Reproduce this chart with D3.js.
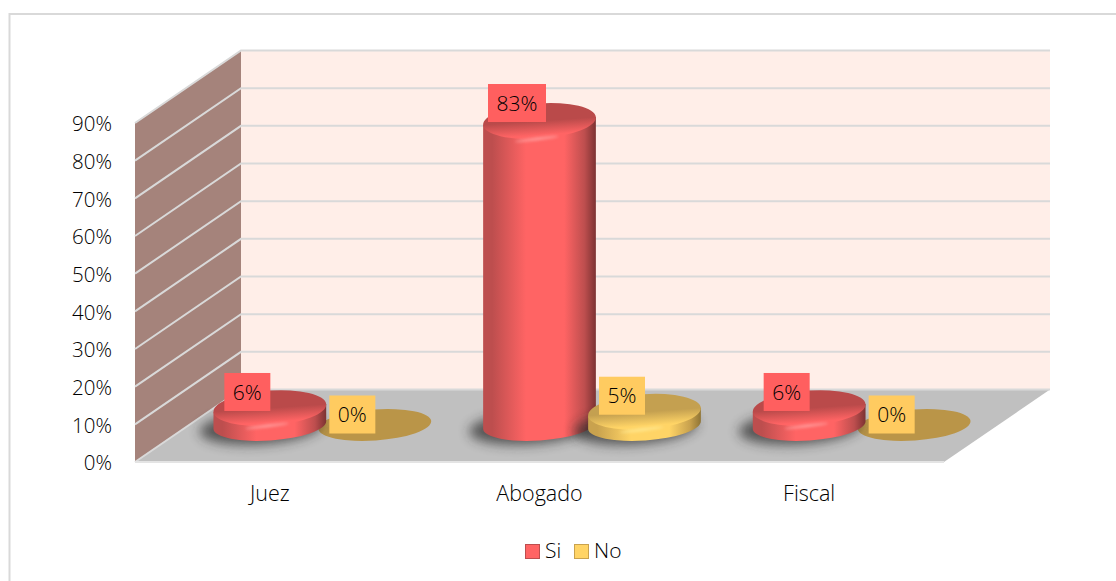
<!DOCTYPE html>
<html><head><meta charset="utf-8">
<script src="https://cdnjs.cloudflare.com/ajax/libs/d3/7.8.5/d3.min.js"></script>
<style>html,body{margin:0;padding:0;background:#fff}svg{display:block}text{font-family:"Open Sans",sans-serif;font-weight:300;fill:#000}</style>
</head><body><div id="c"></div>
<script>
const categories = ["Juez","Abogado","Fiscal"];
const seriesNames = ["Si","No"];
const siValues = [6,83,6];
const noValues = [0,5,0];
const yTicks = [0,10,20,30,40,50,60,70,80,90];

const W=1116,H=581;
const svg=d3.select("#c").append("svg").attr("width",W).attr("height",H);
const defs=svg.append("defs");
const fr={x0:135,x1:944,y0:462,y90:123,dx:106,dy:-72.5};
const y=d3.scaleLinear().domain([0,90]).range([fr.y0,fr.y90]);
const x0=d3.scaleBand().domain(categories).range([fr.x0,fr.x1]);
const x1=d3.scaleOrdinal().domain(seriesNames).range([0,105]);
const topY=d3.scaleLinear().domain([0,83]).range([430.4,121]);
const labelY=d3.scaleLinear().domain([0,83]).range([414.5,103]);
const baseY=425, rx=56.5, ry=15.5, topRy=17.5, tilt=-4;

const cols={Si:{c:"#ff6464",d:"#7c3232",m:"#bd4e4e",t:"#ba4a4a",h:"#ffb0b0",lab:"#ff5f5f"},
            No:{c:"#ffd466",d:"#8f7434",m:"#c9a24e",t:"#c4a050",h:"#fff0a0",lab:"#ffcb60"}};
for(const s of seriesNames){
  const k=cols[s];
  const side=defs.append("linearGradient").attr("id","side"+s);
  [[0,k.m],[.08,k.m],[.38,k.c],[.72,k.c],[.9,k.m],[1,k.d]].forEach(p=>side.append("stop").attr("offset",p[0]).attr("stop-color",p[1]));
  const rim=defs.append("linearGradient").attr("id","top"+s).attr("x1",0).attr("x2",0).attr("y1",0).attr("y2",1);
  [[0,k.t],[.5,k.t],[.9,k.c],[1,k.c]].forEach(p=>rim.append("stop").attr("offset",p[0]).attr("stop-color",p[1]));
}
const blur=(id,sd)=>defs.append("filter").attr("id",id).attr("x","-30%").attr("y","-100%").attr("width","160%").attr("height","300%")
  .append("feGaussianBlur").attr("stdDeviation",sd);
blur("blur",6); blur("soft",1.6);

// frame: left and top only, running off the right and bottom of the page
svg.append("path").attr("d",`M9.5,${H}V14H${W}`).attr("fill","none").attr("stroke","#d9d9d9").attr("stroke-width",2);

// walls
const pts=a=>a.map(p=>p.join(",")).join(" ");
svg.append("polygon").attr("points",pts([[fr.x0+fr.dx,y(0)+fr.dy],[fr.x1+fr.dx,y(0)+fr.dy],[fr.x1+fr.dx,y(90)+fr.dy],[fr.x0+fr.dx,y(90)+fr.dy]])).attr("fill","#ffeee8");
svg.append("polygon").attr("points",pts([[fr.x0,y(0)],[fr.x0+fr.dx,y(0)+fr.dy],[fr.x0+fr.dx,y(90)+fr.dy],[fr.x0,y(90)]])).attr("fill","#a5837b");
svg.append("polygon").attr("points",pts([[fr.x0,y(0)],[fr.x1,y(0)],[fr.x1+fr.dx,y(0)+fr.dy],[fr.x0+fr.dx,y(0)+fr.dy]])).attr("fill","#c0c0c0");

// gridlines
svg.selectAll(".g").data(yTicks).join("path").attr("class","g")
  .attr("d",v=>`M${fr.x0},${y(v)}L${fr.x0+fr.dx},${y(v)+fr.dy}H${fr.x1+fr.dx}`)
  .attr("fill","none").attr("stroke","#d9d9d9").attr("stroke-width",2);
svg.append("path").attr("d",`M${fr.x0},${y(0)}H${fr.x1}`).attr("stroke","#e4e4e4").attr("stroke-width",2);

// y axis labels
svg.selectAll(".yl").data(yTicks).join("text").attr("class","yl")
  .attr("x",112).attr("y",v=>y(v)+1).attr("dy","0.36em").attr("text-anchor","end").attr("font-size",20.5).text(v=>v+"%");

// cylinders (flat zero-value discs first, so solid cylinders sit over them)
const rows=[];
categories.forEach((c,i)=>{rows.push({c,s:"Si",v:siValues[i]});rows.push({c,s:"No",v:noValues[i]});});
rows.forEach(d=>{d.cx=x0(d.c)+x0.bandwidth()/2+x1(d.s);});
const g=svg.append("g");
const drawOrder=rows.filter(d=>d.v===0).concat(rows.filter(d=>d.v!==0));
drawOrder.forEach(d=>{
  const k=cols[d.s], cx=d.cx;
  if(d.v===0){
    g.append("ellipse").attr("cx",cx).attr("cy",baseY).attr("rx",rx).attr("ry",ry)
      .attr("transform",`rotate(${tilt} ${cx} ${baseY})`).attr("fill","#ba9548");
    return;
  }
  g.append("ellipse").attr("cx",cx-9).attr("cy",baseY+2).attr("rx",rx+5).attr("ry",ry+1)
    .attr("transform",`rotate(${tilt} ${cx} ${baseY})`).attr("fill","#2a2a2a").attr("opacity",.72).attr("filter","url(#blur)");
  const ty=topY(d.v);
  const a=tilt*Math.PI/180, ex=rx*Math.cos(a), ey=rx*Math.sin(a);
  g.append("path").attr("d",`M${cx-ex},${ty-ey}L${cx-ex},${baseY-ey}A${rx},${ry} ${tilt} 0 0 ${cx+ex},${baseY+ey}L${cx+ex},${ty+ey}Z`).attr("fill",`url(#side${d.s})`);
  g.append("ellipse").attr("cx",cx).attr("cy",ty).attr("rx",rx).attr("ry",topRy)
    .attr("transform",`rotate(${tilt} ${cx} ${ty})`).attr("fill",`url(#top${d.s})`);
  g.append("ellipse").attr("cx",cx-5).attr("cy",ty+topRy).attr("rx",22).attr("ry",1.5)
    .attr("transform",`rotate(-7 ${cx} ${ty})`).attr("fill",k.h).attr("opacity",.7).attr("filter","url(#soft)");
});

// data labels
const lw=46,lh=38;
const lab=svg.selectAll(".lab").data(rows).join("g").attr("class","lab")
  .attr("transform",d=>`translate(${d.cx-22.5},${labelY(d.v)})`);
lab.append("rect").attr("x",d=>-(d.v>=10?58:lw)/2).attr("y",-lh/2).attr("width",d=>d.v>=10?58:lw).attr("height",lh).attr("fill",d=>cols[d.s].lab);
lab.append("text").attr("text-anchor","middle").attr("dy","0.36em").attr("font-size",21).text(d=>d.v+"%");

// category labels
svg.selectAll(".cl").data(categories).join("text").attr("class","cl")
  .attr("x",c=>x0(c)+x0.bandwidth()/2).attr("y",493.5).attr("dy","0.36em").attr("text-anchor","middle").attr("font-size",21.5).text(c=>c);

// legend
const lx={Si:525,No:574};
seriesNames.forEach(s=>{
  svg.append("rect").attr("x",lx[s]+.5).attr("y",544.5).attr("width",14).attr("height",14).attr("fill",cols[s].c).attr("stroke",cols[s].m).attr("stroke-width",1);
  svg.append("text").attr("x",lx[s]+20).attr("y",550).attr("dy","0.36em").attr("font-size",21).text(s);
});
</script></body></html>
